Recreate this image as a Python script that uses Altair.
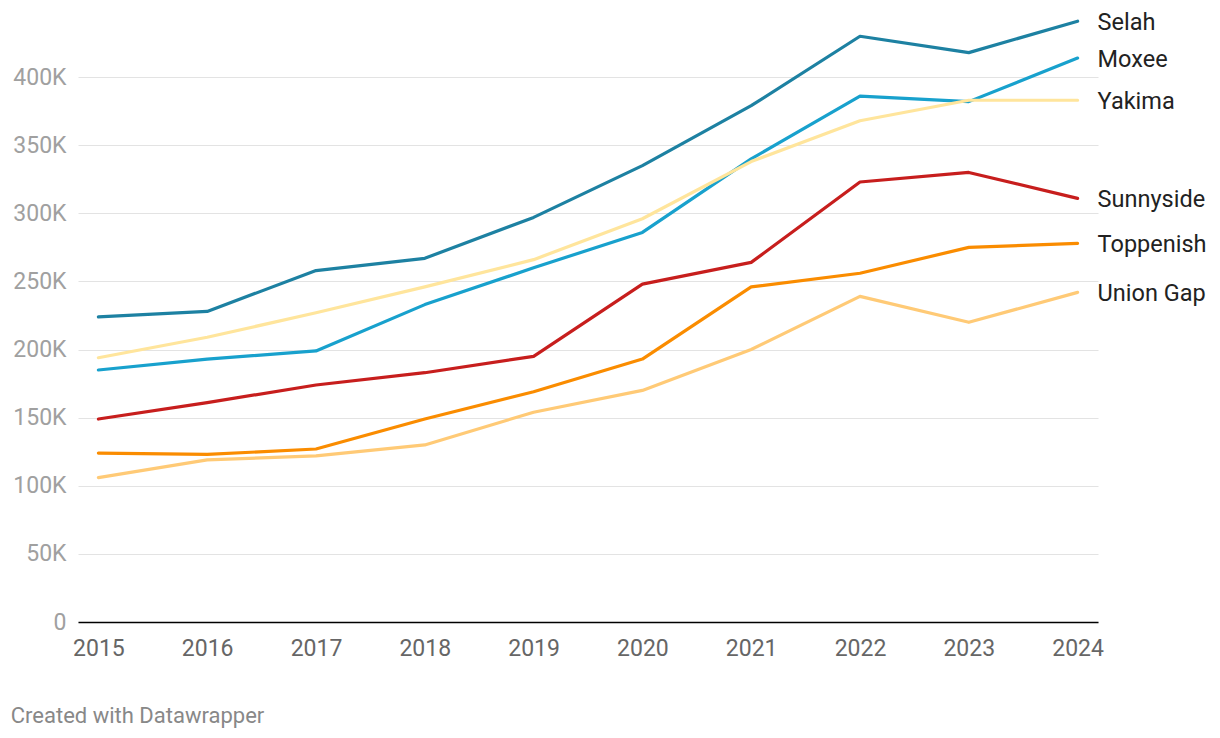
import altair as alt
import pandas as pd

years = [2015, 2016, 2017, 2018, 2019, 2020, 2021, 2022, 2023, 2024]
series = ["Selah", "Moxee", "Yakima", "Sunnyside", "Toppenish", "Union Gap"]
colors = ["#1d81a2", "#18a1cd", "#ffe59c", "#c71e1d", "#fa8c00", "#ffca76"]

selah = [224, 228, 258, 267, 297, 335, 379, 430, 418, 441]
moxee = [185, 193, 199, 233, 260, 286, 340, 386, 382, 414]
yakima = [194, 209, 227, 246, 266, 296, 338, 368, 383, 383]
sunnyside = [149, 161, 174, 183, 195, 248, 264, 323, 330, 311]
toppenish = [124, 123, 127, 149, 169, 193, 246, 256, 275, 278]
union_gap = [106, 119, 122, 130, 154, 170, 200, 239, 220, 242]

values = [selah, moxee, yakima, sunnyside, toppenish, union_gap]

rows = []
for name, vals in zip(series, values):
    for yr, v in zip(years, vals):
        rows.append({"year": yr, "series": name, "value": v})
df = pd.DataFrame(rows)
last = df[df["year"] == years[-1]]

FONT = "Roboto"

x = alt.X("year:O", title=None,
          scale=alt.Scale(type="point", padding=0.1875),
          axis=alt.Axis(labelAngle=0, ticks=False, domain=True, domainColor="#000000",
                        domainWidth=1.5, labelFontSize=23, labelColor="#666666",
                        labelPadding=15, labelFont=FONT, grid=False))
y = alt.Y("value:Q", title=None,
          scale=alt.Scale(domain=[0, 450], nice=False, zero=True),
          axis=alt.Axis(values=[0, 50, 100, 150, 200, 250, 300, 350, 400],
                        labelExpr="datum.value == 0 ? '0' : datum.value + 'K'",
                        ticks=False, domain=False, grid=True, gridColor="#e3e3e3",
                        gridWidth=1, labelFontSize=23, labelColor="#a0a0a0",
                        labelPadding=12, labelFont=FONT))
color = alt.Color("series:N", scale=alt.Scale(domain=series, range=colors), legend=None)

lines = alt.Chart(df).mark_line(strokeWidth=3.2, strokeCap="round", strokeJoin="round").encode(
    x=x, y=y, color=color, detail="series:N"
)

labels = alt.Chart(last).mark_text(align="left", baseline="middle", dx=20, dy=2, fontSize=23.5,
                                   font=FONT, color="#222222").encode(
    x=alt.X("year:O"), y=alt.Y("value:Q"), text="series:N"
)

chart = alt.layer(lines, labels).properties(
    width=1020, height=613,
    autosize=alt.AutoSizeParams(type="none"),
    padding={"left": 70, "top": 1, "right": 112, "bottom": 112},
    title=alt.TitleParams("Created with Datawrapper", orient="bottom", anchor="start",
                          dx=-2, offset=46, fontSize=22, font=FONT, color="#888888",
                          fontWeight="normal"),
).configure(background="white", view=alt.ViewConfig(stroke=None, strokeWidth=0))

chart.save("out.html", embed_options={"renderer": "svg", "actions": False})
